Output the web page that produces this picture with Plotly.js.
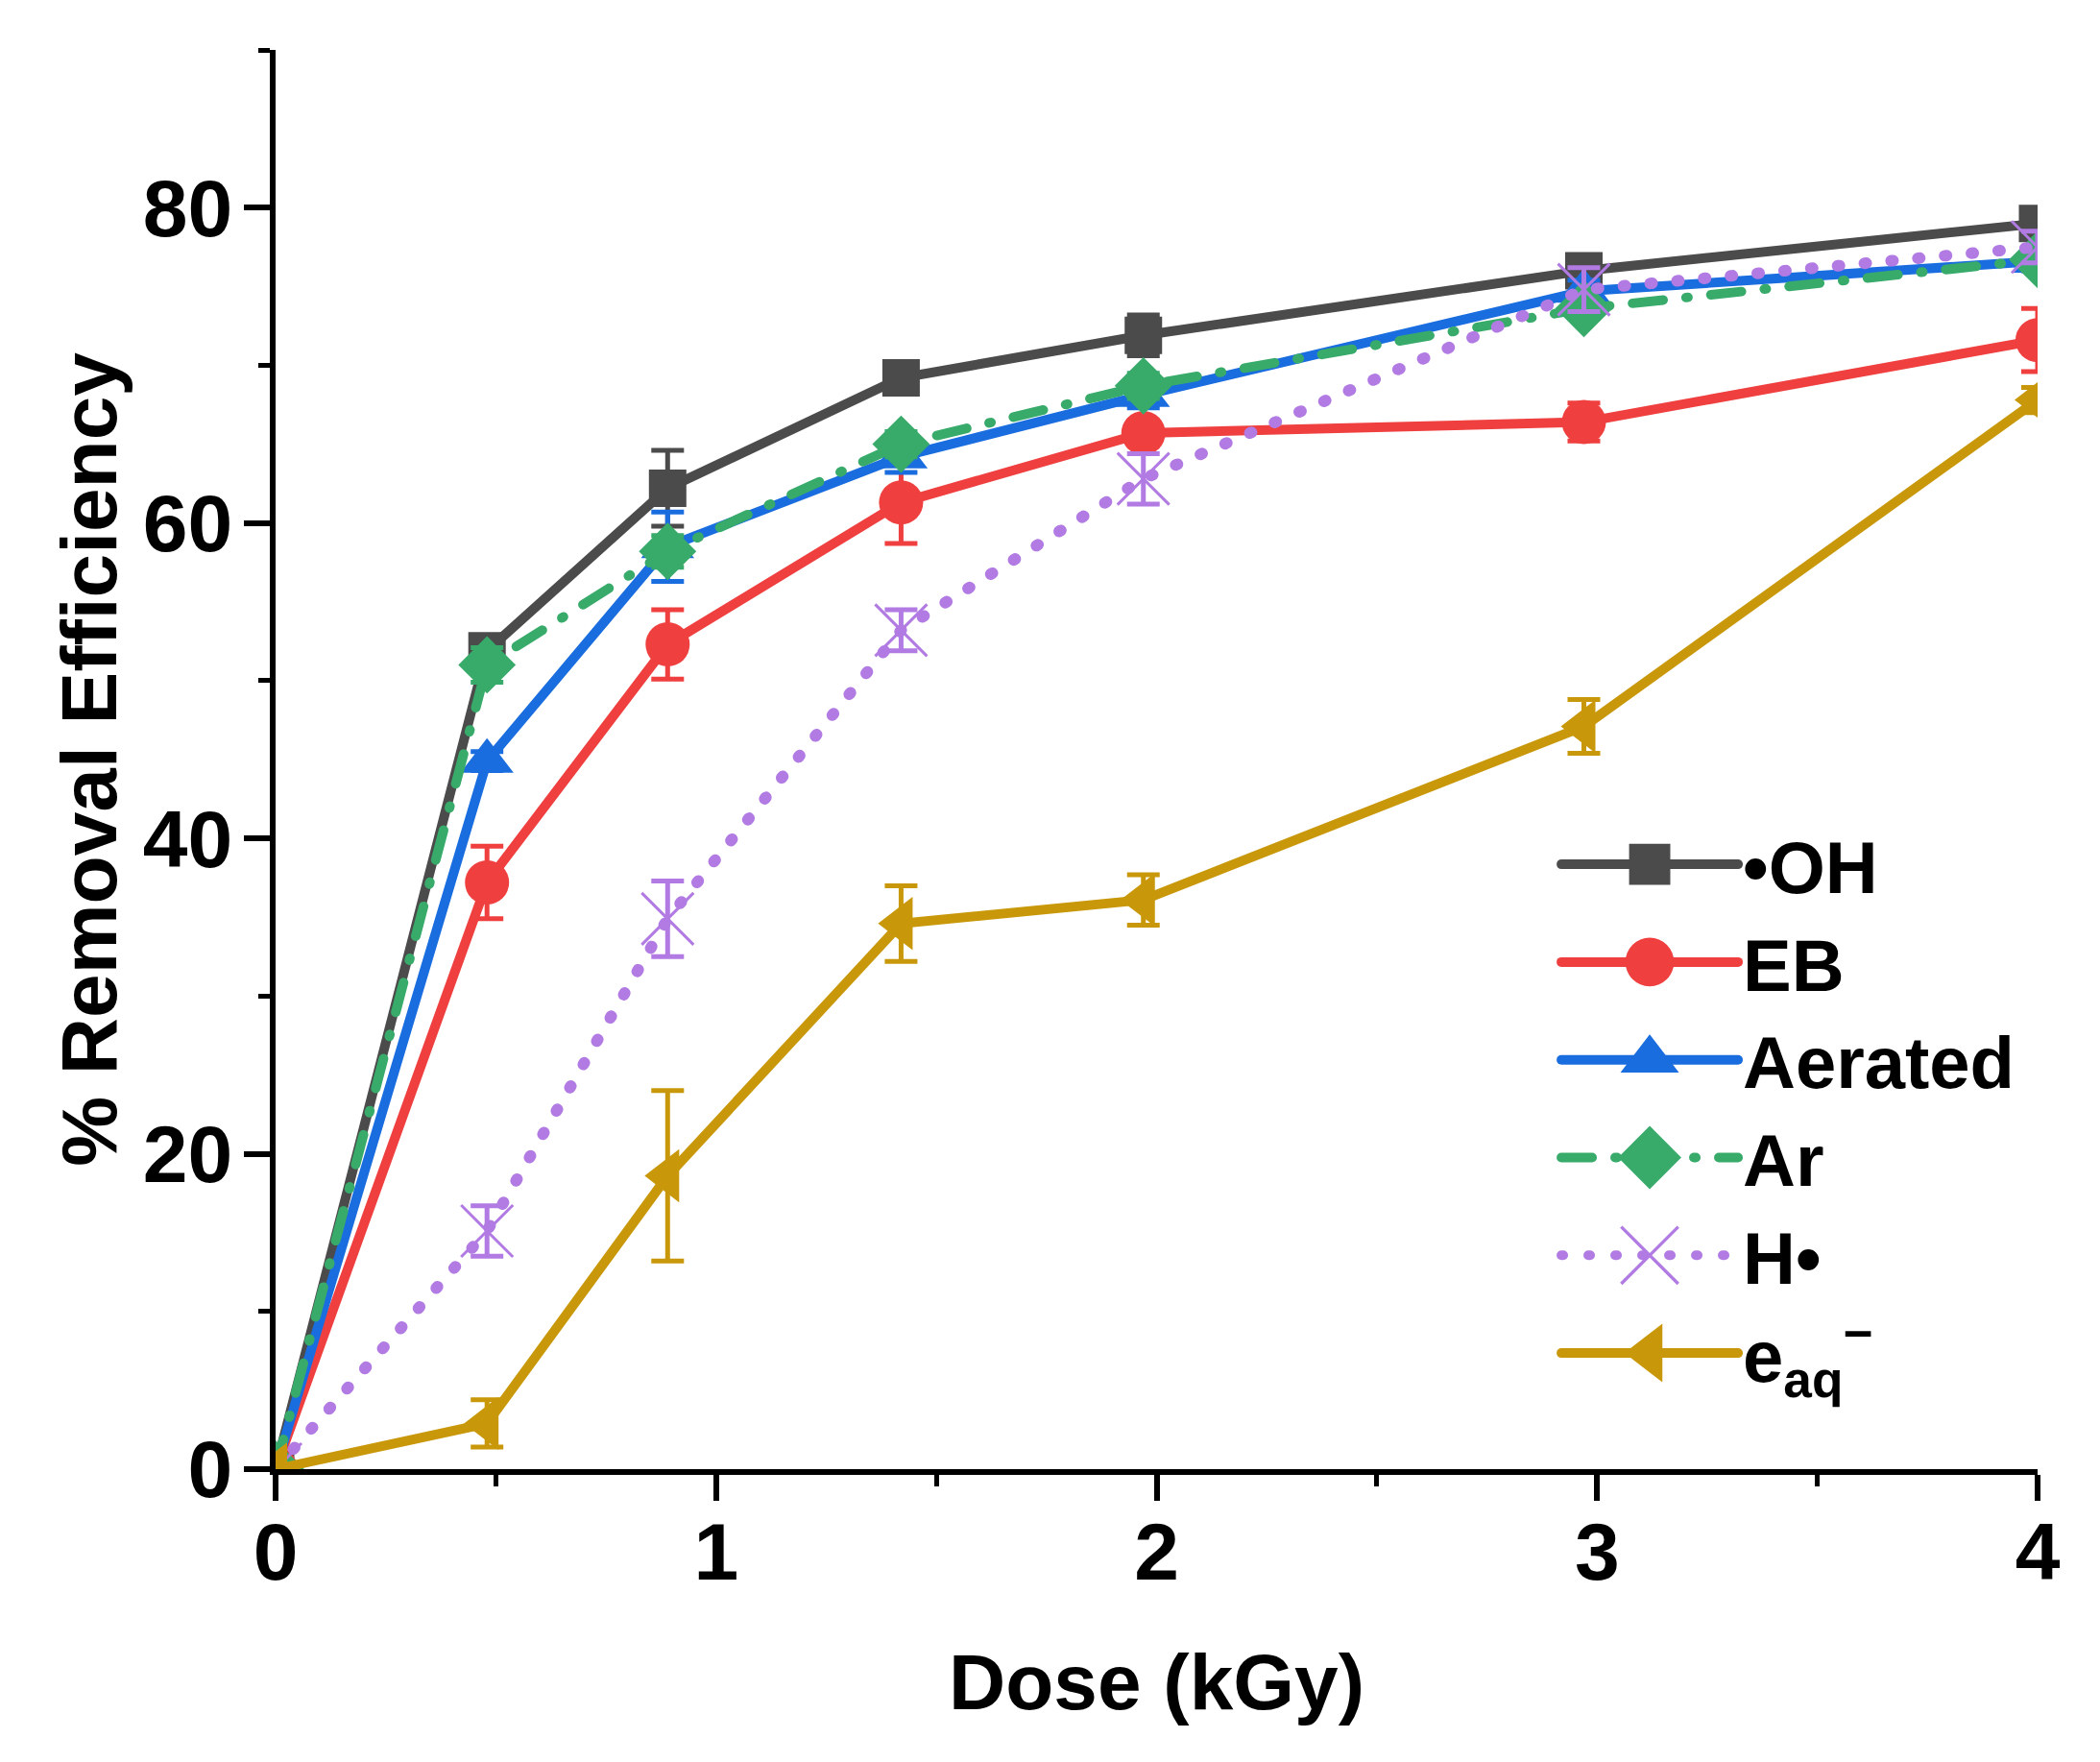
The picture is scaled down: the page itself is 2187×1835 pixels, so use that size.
<!DOCTYPE html>
<html>
<head>
<meta charset="utf-8">
<script src="https://cdn.plot.ly/plotly-3.0.1.min.js"></script>
<style>
  body { margin: 0; background: #fff; }
</style>
</head>
<body>
<div id="chart" style="width:2187px;height:1835px;"></div>
<script>
// ---- data ----
const dose = [0, 0.48, 0.89, 1.42, 1.97, 2.97, 4.0];

const seriesNames = ['•OH', 'EB', 'Aerated', 'Ar', 'H•', 'e<sub>aq</sub><sup>−</sup>'];

const ohVals   = [0, 51.9, 62.2, 69.2, 71.9, 76.0, 79.0];
const ohErr    = [0, 0.6, 2.4, 1.0, 1.3, 0.8, 0.6];

const ebVals   = [0, 37.2, 52.3, 61.3, 65.7, 66.4, 71.6];
const ebErr    = [0, 2.3, 2.2, 2.6, 0.8, 1.2, 2.0];

const aerVals  = [0, 44.9, 58.5, 64.2, 68.1, 74.7, 76.6];
const aerErr   = [0, 0.6, 2.2, 1.0, 0.8, 0.7, 0.6];

const arVals   = [0, 51.0, 58.2, 65.0, 68.7, 73.6, 76.7];
const arErr    = [0, 1.1, 1.0, 0.8, 0.8, 0.6, 0.6];

const hVals    = [0, 15.1, 34.9, 53.2, 62.8, 74.8, 77.5];
const hErr     = [0, 1.6, 2.4, 1.3, 1.6, 1.4, 1.0];

const eVals    = [0, 2.9, 18.6, 34.6, 36.1, 47.1, 67.8];
const eErr     = [0, 1.5, 5.4, 2.4, 1.6, 1.7, 0.8];

const xTicks = [0, 1, 2, 3, 4];
const yTicks = [0, 20, 40, 60, 80];

// ---- styles ----
const styles = [
  {color: '#4b4b4b', symbol: 'square',        size: 39, dash: 'solid', width: 10},
  {color: '#ef3f3f', symbol: 'circle',        size: 46, dash: 'solid', width: 10},
  {color: '#1a6ddf', symbol: 'triangle-up',   size: 48, dash: 'solid', width: 10},
  {color: '#38ab6b', symbol: 'diamond',       size: 46, dash: '32px,24px,2px,24px', width: 10},
  {color: '#b17be3', symbol: 'x-thin',        size: 54, dash: '2px,26px', width: 12},
  {color: '#c9980a', symbol: 'triangle-left', size: 48, dash: 'solid', width: 10}
];
const vals = [ohVals, ebVals, aerVals, arVals, hVals, eVals];
const errs = [ohErr, ebErr, aerErr, arErr, hErr, eErr];

const traces = vals.map((v, i) => {
  const s = styles[i];
  const isX = s.symbol === 'x-thin';
  return {
    type: 'scatter',
    mode: 'lines+markers',
    name: seriesNames[i],
    x: dose,
    y: v,
    line: {color: s.color, width: s.width, dash: s.dash},
    marker: {
      color: s.color,
      symbol: s.symbol,
      size: s.size,
      line: {color: s.color, width: isX ? 3 : 0}
    },
    error_y: {type: 'data', array: errs[i], visible: true, color: s.color, thickness: 5, width: 17}
  };
});

const fontFam = '"Liberation Sans", Arial, sans-serif';

const layout = {
  width: 2187,
  height: 1835,
  margin: {l: 287, r: 65, t: 52, b: 305},
  paper_bgcolor: '#fff',
  plot_bgcolor: '#fff',
  showlegend: true,
  legend: {
    x: 0.727, xanchor: 'left',
    y: 0.464, yanchor: 'top',
    bgcolor: 'rgba(0,0,0,0)',
    itemwidth: 184,
    font: {family: fontFam, size: 76, color: '#000', weight: 'bold'},
    tracegroupgap: 0
  },
  xaxis: {
    range: [0, 4],
    tickvals: xTicks,
    ticktext: xTicks.map(String),
    ticks: 'outside', ticklen: 27, tickwidth: 6, tickcolor: '#000',
    showline: true, linewidth: 6, linecolor: '#000',
    showgrid: false, zeroline: false,
    ticklabelstandoff: -19,
    tickfont: {family: fontFam, size: 84, color: '#000', weight: 'bold'},
    minor: {dtick: 0.5, ticks: 'outside', ticklen: 12, tickwidth: 5, tickcolor: '#000', showgrid: false},
    title: {text: 'Dose (kGy)', standoff: 63, font: {family: fontFam, size: 82, color: '#000', weight: 'bold'}},
    automargin: false
  },
  yaxis: {
    range: [0, 90],
    tickvals: yTicks,
    ticktext: yTicks.map(String),
    ticks: 'outside', ticklen: 27, tickwidth: 6, tickcolor: '#000',
    showline: true, linewidth: 6, linecolor: '#000',
    showgrid: false, zeroline: false,
    ticklabelstandoff: -5,
    tickfont: {family: fontFam, size: 84, color: '#000', weight: 'bold'},
    minor: {dtick: 10, ticks: 'outside', ticklen: 12, tickwidth: 5, tickcolor: '#000', showgrid: false},
    title: {text: '% Removal Efficiency', standoff: 2, font: {family: fontFam, size: 82, color: '#000', weight: 'bold'}},
    automargin: false
  }
};

Plotly.newPlot('chart', traces, layout, {displayModeBar: false, staticPlot: true}).then(gd => {
  // round line caps so the dotted styles show round dots, as in the reference
  gd.querySelectorAll('.scatterlayer .lines path, .legend .legendlines path, path.js-line').forEach(p => {
    p.setAttribute('stroke-linecap', 'round');
    p.style.setProperty('stroke-linecap', 'round', 'important');
  });
  // enlarge legend markers to match the plotted marker size
  gd.querySelectorAll('.legend .traces').forEach((g, i) => {
    const s = styles[i];
    g.querySelectorAll('.legendpoints path.scatterpts').forEach(p => {
      const t = p.getAttribute('transform') || '';
      p.setAttribute('transform', t + ' scale(' + (s.size * 1.1 / 16).toFixed(3) + ')');
      p.style.strokeWidth = (s.symbol === 'x-thin' ? 3 * 16 / s.size : 0) + 'px';
    });
  });
});
</script>
</body>
</html>
